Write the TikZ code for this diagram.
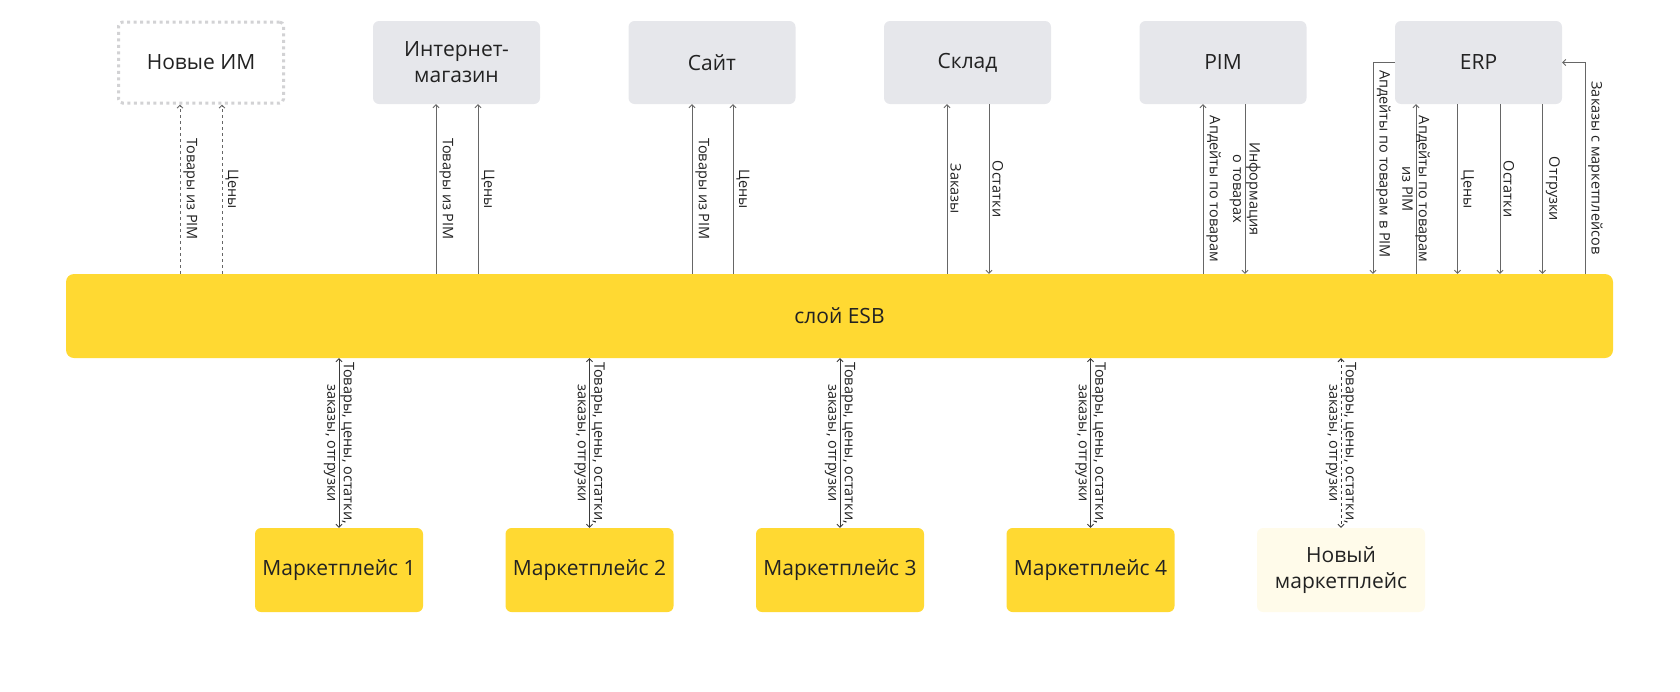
\documentclass[tikz,border=0pt]{standalone}
\usepackage{fontspec}
\setmainfont{Open Sans}
\usetikzlibrary{arrows.meta,calc}
\definecolor{esbyellow}{HTML}{FFD932}
\definecolor{sysgray}{HTML}{E6E7EB}
\definecolor{paleyellow}{HTML}{FFFBEA}
\definecolor{dotgray}{HTML}{D2D2D4}
\definecolor{linegray}{HTML}{666666}
\definecolor{darkline}{HTML}{3A3A3A}
\definecolor{txt}{HTML}{222222}
\begin{document}
\begin{tikzpicture}[x=1pt,y=-1pt,
  every node/.style={text=txt},
  sysbox/.style={fill=sysgray, rounded corners=6pt, minimum width=167pt, minimum height=83pt, align=center, inner sep=0pt, font=\fontsize{21}{26}\selectfont},
  newbox/.style={fill=white, draw=dotgray, line width=3pt, dash pattern=on 3pt off 3.5pt, rounded corners=4pt, minimum width=165pt, minimum height=81pt, align=center, inner sep=0pt, font=\fontsize{21}{26}\selectfont},
  mpbox/.style={fill=esbyellow, rounded corners=6pt, minimum width=168pt, minimum height=84pt, align=center, inner sep=0pt, font=\fontsize{21}{26}\selectfont},
  lbl/.style={rotate=-90, anchor=south, inner sep=3pt, font=\fontsize{14.5}{16.5}\selectfont},
  lblc/.style={rotate=-90, anchor=center, align=center, inner sep=1pt, font=\fontsize{14.5}{16.5}\selectfont},
  conn/.style={draw=linegray, line width=0.9pt, -{Straight Barb[length=3pt,width=6pt]}},
  dconn/.style={draw=darkline, line width=0.9pt, {Straight Barb[length=3pt,width=6pt]}-{Straight Barb[length=3pt,width=6pt]}}
]
\useasboundingbox (0,0) rectangle (1680,691);

% top systems
\node[newbox] (newim) at (201,62.5) {Новые ИМ};
\node[sysbox] (ishop) at (456.5,62.5) {Интернет-\\магазин};
\node[sysbox] (site) at (712,62.5) {Сайт};
\node[sysbox] (stock) at (967.5,62.5) {Склад};
\node[sysbox] (pim) at (1223,62.5) {PIM};
\node[sysbox] (erp) at (1478.5,62.5) {ERP};

% ESB
\node[fill=esbyellow, rounded corners=8pt, minimum width=1547pt, minimum height=84pt, inner sep=0pt, font=\fontsize{21}{26}\selectfont] (esb) at (839.5,316) {слой ESB};

% bottom marketplaces
\node[mpbox] (mp1) at (339,570) {Маркетплейс 1};
\node[mpbox] (mp2) at (589.5,570) {Маркетплейс 2};
\node[mpbox] (mp3) at (840,570) {Маркетплейс 3};
\node[mpbox] (mp4) at (1090.5,570) {Маркетплейс 4};
\node[mpbox, fill=paleyellow] (mpnew) at (1341,570) {Новый\\маркетплейс};

% Новые ИМ
\draw[conn, dashed] (180,0 |- esb.north) -- (180,0 |- newim.south) node[lbl, midway] (l1) {Товары из PIM};
\draw[conn, dashed] (222,0 |- esb.north) -- (222,0 |- newim.south) node[lbl, midway] (l2) {Цены};
% Интернет-магазин
\draw[conn] (436,0 |- esb.north) -- (436,0 |- ishop.south) node[lbl, midway] (l3) {Товары из PIM};
\draw[conn] (478,0 |- esb.north) -- (478,0 |- ishop.south) node[lbl, midway] (l4) {Цены};
% Сайт
\draw[conn] (692,0 |- esb.north) -- (692,0 |- site.south) node[lbl, midway] (l5) {Товары из PIM};
\draw[conn] (733,0 |- esb.north) -- (733,0 |- site.south) node[lbl, midway] (l6) {Цены};
% Склад
\draw[conn] (947,0 |- esb.north) -- (947,0 |- stock.south) node[lbl, midway] (l7) {Заказы};
\draw[conn] (989,0 |- stock.south) -- (989,0 |- esb.north) node[lbl, midway] (l8) {Остатки};
% PIM
\draw[conn] (1203,0 |- esb.north) -- (1203,0 |- pim.south) node[lbl, midway] (l9) {Апдейты по товарам};
\draw[conn] (1245,0 |- pim.south) -- (1245,0 |- esb.north) node[lblc, midway] (l10) {Информация\\о товарах};
% ERP
\draw[conn] (erp.west) -| (1373,0 |- esb.north);
\node[lbl] (l11) at (1373,164) {Апдейты по товарам в PIM};
\draw[conn] (1416,0 |- esb.north) -- (1416,0 |- erp.south) node[lblc, midway] (l12) {Апдейты по товарам\\из PIM};
\draw[conn] (1457.5,0 |- erp.south) -- (1457.5,0 |- esb.north) node[lbl, midway] (l13) {Цены};
\draw[conn] (1500,0 |- erp.south) -- (1500,0 |- esb.north) node[lbl, midway] (l14) {Остатки};
\draw[conn] (1542.5,0 |- erp.south) -- (1542.5,0 |- esb.north) node[lbl, midway] (l15) {Отгрузки};
\draw[conn] (1585,0 |- esb.north) |- (erp.east);
\node[lbl] (l16) at (1585,168) {Заказы с маркетплейсов};

% bottom connections
\draw[dconn] (esb.south -| mp1.north) -- (mp1.north) node[lblc, midway] (b1) {Товары, цены, остатки,\\заказы, отгрузки};
\draw[dconn] (esb.south -| mp2.north) -- (mp2.north) node[lblc, midway] (b2) {Товары, цены, остатки,\\заказы, отгрузки};
\draw[dconn] (esb.south -| mp3.north) -- (mp3.north) node[lblc, midway] (b3) {Товары, цены, остатки,\\заказы, отгрузки};
\draw[dconn] (esb.south -| mp4.north) -- (mp4.north) node[lblc, midway] (b4) {Товары, цены, остатки,\\заказы, отгрузки};
\draw[dconn, dashed] (esb.south -| mpnew.north) -- (mpnew.north) node[lblc, midway] (b5) {Товары, цены, остатки,\\заказы, отгрузки};
\end{tikzpicture}
\end{document}
